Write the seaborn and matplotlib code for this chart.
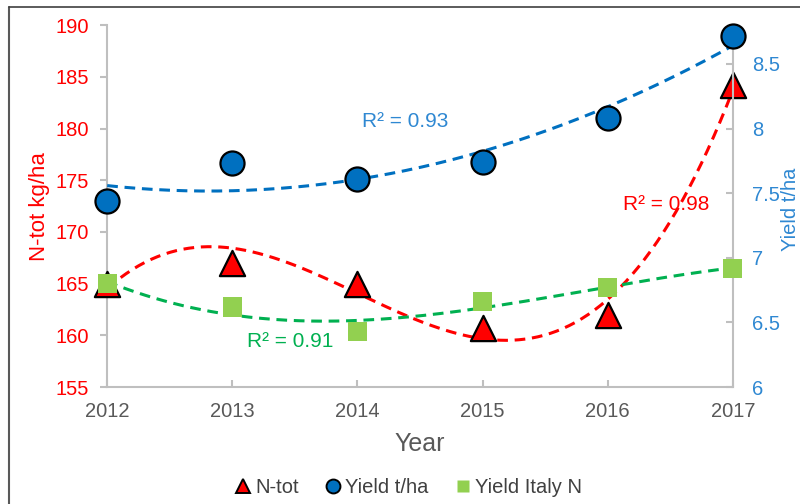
import numpy as np
import pandas as pd
import matplotlib
matplotlib.use("Agg")
import matplotlib.pyplot as plt
import seaborn as sns
from matplotlib.lines import Line2D

# values
years = [2012, 2013, 2014, 2015, 2016, 2017]
n_tot = [165.0, 167.0, 165.0, 160.7, 162.0, 184.2]          # kg/ha, left axis
yield_tha = [7.44, 7.73, 7.61, 7.74, 8.08, 8.72]            # t/ha, right axis
yield_italy = [6.80, 6.62, 6.43, 6.66, 6.77, 6.92]          # t/ha, right axis

red = "#FF0000"
blue = "#0070C0"
blue_txt = "#2F88D2"
green = "#92D050"
green_line = "#00B050"
grey = "#BFBFBF"

sns.set_theme(style="white")
plt.rcParams["font.family"] = ["Liberation Sans", "DejaVu Sans"]

df = pd.DataFrame({"Year": years, "N": n_tot, "Yield": yield_tha, "Italy": yield_italy})

# polynomial trend lines (like excel)
xx = np.linspace(2012, 2017, 200)
def trend(y, deg):
    c = np.polyfit(np.array(years) - 2012, y, deg)
    return np.polyval(c, xx - 2012)

fig = plt.figure(figsize=(8, 5.04), dpi=100)
ax = fig.add_axes([0.134, 0.232, 0.782, 0.718])
ax2 = ax.twinx()

sns.lineplot(x=xx, y=trend(n_tot, 3), ax=ax, color=red, lw=2.2, dashes=(3.5, 2.2), zorder=2)
sns.scatterplot(data=df, x="Year", y="N", ax=ax, marker="^", s=330, color=red,
                edgecolor="black", linewidth=1.6, zorder=4, clip_on=False)

ax2.plot(xx, trend(yield_italy, 3), color=green_line, lw=2.2, dashes=(3.5, 2.2), zorder=2)
ax2.plot(xx, trend(yield_tha, 2), color=blue, lw=2.2, dashes=(3.5, 2.2), zorder=2)
sns.scatterplot(data=df, x="Year", y="Italy", ax=ax2, marker="s", s=190, color=green,
                edgecolor="none", zorder=3, clip_on=False)
sns.scatterplot(data=df, x="Year", y="Yield", ax=ax2, marker="o", s=300, color=blue,
                edgecolor="black", linewidth=1.6, zorder=4, clip_on=False)

ax.set_xlim(2012, 2017)
ax.set_ylim(155, 190)
ax2.set_ylim(6, 8.8)
ax.set_yticks(range(155, 191, 5))
ax2.set_yticks([6, 6.5, 7, 7.5, 8, 8.5])
ax2.set_yticklabels(["6", "6.5", "7", "7.5", "8", "8.5"])
ax.set_xticks(years)

for a in (ax, ax2):
    for s in a.spines.values():
        s.set_color(grey)
        s.set_linewidth(1.5)
    a.spines["top"].set_visible(False)
ax.spines["right"].set_visible(False)
ax2.spines["left"].set_visible(False)
ax2.spines["bottom"].set_visible(False)

ax.tick_params(axis="y", colors=grey, labelcolor=red, labelsize=14.5, length=5, width=1.5,
               direction="out", left=True, pad=8)
ax.tick_params(axis="x", colors=grey, labelcolor="#595959", labelsize=14.5, length=5, width=1.5,
               direction="in", bottom=True, pad=11)
ax2.tick_params(axis="y", colors=grey, labelcolor=blue_txt, labelsize=14.5, length=5, width=1.5,
                direction="in", right=True, pad=14)

ax.set_xlabel("Year", fontsize=18, color="#595959", labelpad=8)
ax.set_ylabel("N-tot kg/ha", fontsize=16, color=red, labelpad=4)
ax2.set_ylabel("")
fig.text(1.0, 0.585, "Yield t/ha", rotation=90, color=blue_txt, fontsize=14.5,
         ha="right", va="center")

ax.text(2014.38, 180.7, "R² = 0.93", color=blue_txt, fontsize=15, ha="center", va="center")
ax.text(2016.47, 172.7, "R² = 0.98", color=red, fontsize=15, ha="center", va="center")
ax.text(2013.46, 159.4, "R² = 0.91", color=green_line, fontsize=15, ha="center", va="center")

handles = [
    Line2D([], [], ls="none", marker="^", ms=10, mfc=red, mec="black", mew=1.4),
    Line2D([], [], ls="none", marker="o", ms=10, mfc=blue, mec="black", mew=1.4),
    Line2D([], [], ls="none", marker="s", ms=8.5, mfc=green, mec="none"),
]
fig.legend(handles, ["N-tot", "Yield t/ha", "Yield Italy N"], loc="center",
           bbox_to_anchor=(0.509, 0.033), ncol=3, frameon=False, fontsize=14.5,
           handletextpad=0.1, columnspacing=1.2, handlelength=1.0, labelcolor="#404040")

# outer frame (left and top edges visible)
fig.add_artist(Line2D([0.011, 0.011], [0, 0.986], transform=fig.transFigure, color="#595959", lw=1.5))
fig.add_artist(Line2D([0.011, 1.0], [0.986, 0.986], transform=fig.transFigure, color="#404040", lw=1.2))

fig.savefig("out.png", dpi=100)
